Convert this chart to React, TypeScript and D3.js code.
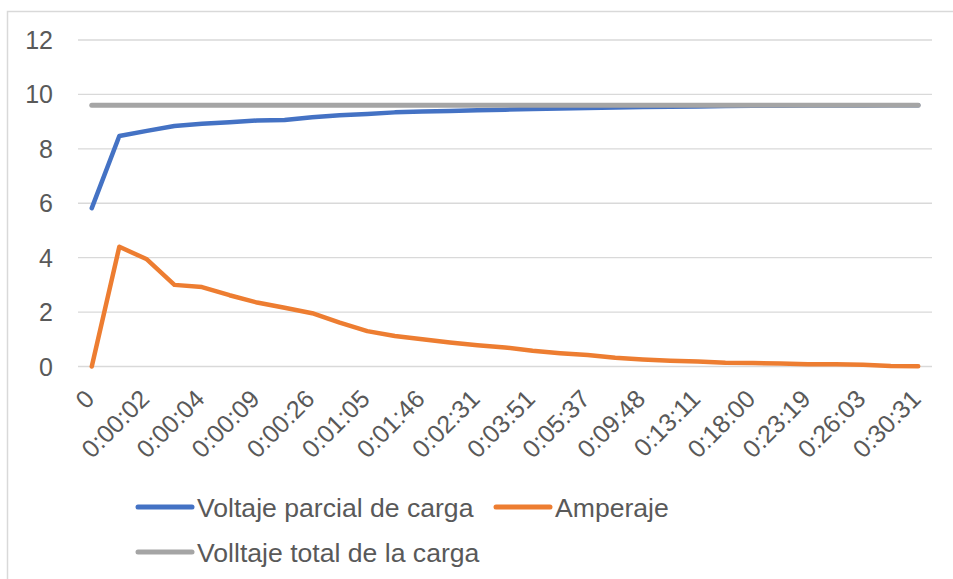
import React from 'react';
import * as d3 from 'd3';

// x categories (31 samples); only every other one carries a label
const categoryIndex = d3.range(31);
const tickLabels = [
  '0', '0:00:02', '0:00:04', '0:00:09', '0:00:26', '0:01:05', '0:01:46', '0:02:31',
  '0:03:51', '0:05:37', '0:09:48', '0:13:11', '0:18:00', '0:23:19', '0:26:03', '0:30:31',
];
const yTicks = [0, 2, 4, 6, 8, 10, 12];

const voltajeParcial = [
  5.82, 8.47, 8.66, 8.84, 8.92, 8.98, 9.04, 9.06, 9.16, 9.23, 9.28, 9.34, 9.37, 9.39, 9.42, 9.44,
  9.46, 9.48, 9.5, 9.52, 9.54, 9.55, 9.56, 9.57, 9.58, 9.58, 9.59, 9.59, 9.59, 9.6, 9.6,
];
const amperaje = [
  0, 4.4, 3.94, 3.0, 2.92, 2.62, 2.35, 2.16, 1.96, 1.61, 1.3, 1.12, 1.0, 0.88, 0.78, 0.7,
  0.58, 0.49, 0.42, 0.32, 0.26, 0.21, 0.18, 0.14, 0.13, 0.11, 0.08, 0.08, 0.06, 0.02, 0.01,
];
const voltajeTotal = [
  9.6, 9.6, 9.6, 9.6, 9.6, 9.6, 9.6, 9.6, 9.6, 9.6, 9.6, 9.6, 9.6, 9.6, 9.6, 9.6,
  9.6, 9.6, 9.6, 9.6, 9.6, 9.6, 9.6, 9.6, 9.6, 9.6, 9.6, 9.6, 9.6, 9.6, 9.6,
];

const series = [
  { name: 'Voltaje parcial de carga', color: '#4472c4', values: voltajeParcial },
  { name: 'Amperaje', color: '#ed7d31', values: amperaje },
  { name: 'Volltaje total de la carga', color: '#a5a5a5', values: voltajeTotal },
];

const W = 953;
const H = 579;
const textColor = '#595959';
const font = '"Liberation Sans", Arial, sans-serif';

export default function App() {
  const x = d3.scalePoint<number>().domain(categoryIndex).range([78, 932]).padding(0.5);
  const y = d3.scaleLinear().domain([0, 12]).range([366.5, 40]);

  const line = d3.line<number>()
    .x((_, i) => x(i) as number)
    .y(d => y(d));

  // blue, orange, then grey on top
  const drawOrder = [series[0], series[1], series[2]];

  const legendRows = [
    [{ s: series[0], lx: 138 }, { s: series[1], lx: 496 }],
    [{ s: series[2], lx: 138 }],
  ];
  const legendY = [507, 552];

  return (
    <svg width={W} height={H} style={{ position: 'absolute', left: 0, top: 0 }} fontFamily={font}>
      <rect x={0} y={0} width={W} height={H} fill="#fff" />
      <rect x={7.5} y={11.5} width={1100} height={700} fill="none" stroke="#d9d9d9" strokeWidth={1.5} />

      {yTicks.map(t => (
        <g key={t}>
          <line x1={78} x2={932} y1={y(t)} y2={y(t)} stroke="#d9d9d9" strokeWidth={1.3} />
          <text x={53} y={y(t)} dy="0.36em" textAnchor="end" fontSize={25} fill={textColor}>{t}</text>
        </g>
      ))}

      {tickLabels.map((lab, k) => {
        const cx = x(k * 2) as number;
        return (
          <text
            key={lab}
            transform={`translate(${cx + 4},${y(0) + 34}) rotate(-45)`}
            textAnchor="end"
            fontSize={25}
            fill={textColor}
          >
            {lab}
          </text>
        );
      })}

      {drawOrder.map(s => (
        <path
          key={s.name}
          d={line(s.values) || ''}
          fill="none"
          stroke={s.color}
          strokeWidth={s.name.startsWith('Volltaje') ? 5 : 4.5}
          strokeLinejoin="round"
          strokeLinecap="round"
        />
      ))}

      {legendRows.map((row, r) =>
        row.map(({ s, lx }) => (
          <g key={s.name}>
            <line x1={lx} x2={lx + 54} y1={legendY[r]} y2={legendY[r]} stroke={s.color} strokeWidth={5} strokeLinecap="round" />
            <text x={lx + 59} y={legendY[r]} dy="0.36em" fontSize={26.6} fill={textColor}>{s.name}</text>
          </g>
        ))
      )}
    </svg>
  );
}
